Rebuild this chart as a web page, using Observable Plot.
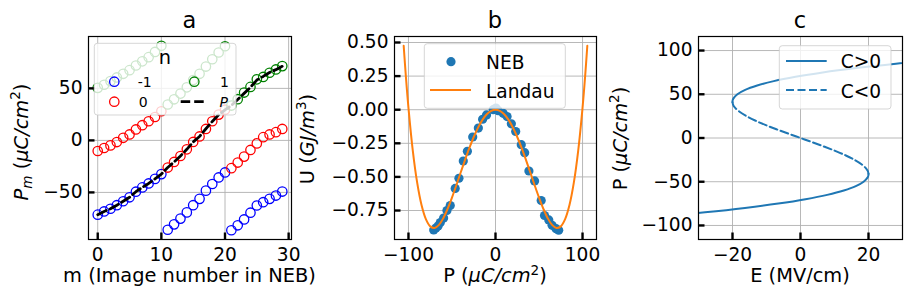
<!DOCTYPE html>
<html>
<head>
<meta charset="utf-8">
<script src="https://cdn.jsdelivr.net/npm/d3@7"></script>
<script src="https://cdn.jsdelivr.net/npm/@observablehq/plot@0.6"></script>
<style>
  html, body { margin: 0; padding: 0; background: #fff; }
  #fig { position: relative; width: 911px; height: 305px; overflow: hidden; background: #fff; }
  #fig > svg { position: absolute; top: 0; overflow: visible; background: transparent !important; }
</style>
</head>
<body>
<div id="fig"></div>
<script>
// ---------------- data ----------------
// panel a: image number m and the polarization branches P_m for n = -1, 0, 1
const imageM = [0,1,2,3,4,5,6,7,8,9,10,11,12,13,14,15,16,17,18,19,20,21,22,23,24,25,26,27,28,29];
const pmBlue  = [-71.4,-68.3,-65.7,-62.3,-58.5,-54.7,-49.3,-45.2,-41.4,-37.0,-32.4,
                 -85.9,-80.7,-75.2,-69.2,-62.3,-56.2,-48.3,-41.9,-35.6,-30.8,
                 -86.4,-81.6,-76.0,-69.5,-62.6,-59.4,-56.2,-53.0,-49.2];
const pmRed   = [-10.2,-7.3,-4.8,-1.6,2.5,5.7,10.5,14.6,18.4,22.5,28.0,
                 -26.1,-20.7,-15.0,-8.6,-1.5,3.8,11.0,18.4,24.8,29.5,
                 -26.7,-21.3,-15.6,-9.2,-2.9,3.1,5.7,7.9,11.0];
const pmGreen = [50.5,53.5,57.0,60.5,64.0,67.5,72.0,76.0,80.0,85.0,91.0,
                 34.5,39.5,45.0,51.0,58.0,64.0,71.0,78.0,84.5,90.5,
                 33.5,39.6,46.0,51.4,58.7,61.0,65.0,68.2,71.4];
const pPath   = [-71.4,-68.3,-65.7,-62.3,-58.5,-54.7,-49.3,-45.2,-41.4,-37.0,-32.4,
                 -26.1,-20.7,-15.0,-8.6,-1.5,3.8,11.2,18.2,24.6,29.3,
                 33.5,39.3,45.2,51.1,58.0,61.5,65.3,68.0,71.2];
const legendA = ["-1", "0", "1", "P"];

// panel b: NEB energies and Landau fit
const nebP = [-71.0,-68.5,-66.0,-63.4,-59.6,-55.8,-52.0,-46.3,-42.0,-37.0,-32.3,-26.2,-19.7,-14.8,-10.3,-2.6,
              0.5,3.1,8.8,13.3,18.2,23.2,29.6,33.5,38.4,44.9,52.5,56.3,61.2,65.0,69.6,72.6];
const nebU = [-0.895,-0.880,-0.865,-0.840,-0.806,-0.750,-0.713,-0.586,-0.510,-0.382,-0.309,-0.203,-0.137,-0.071,-0.039,0.000,
              0.012,-0.007,-0.027,-0.051,-0.105,-0.162,-0.260,-0.320,-0.456,-0.530,-0.676,-0.787,-0.820,-0.860,-0.885,-0.897];
const landauP = [-105.5,-103,-100,-95,-90,-85,-80,-75,-70,-65,-60,-55,-50,-45,-40,-35,-30,-25,-20,-15,-10,-5,
                 0,5,10,15,20,25,30,35,40,45,50,55,60,65,70,75,80,85,90,95,100,103,105.5];
const landauU = [0.476,0.250,0.014,-0.306,-0.543,-0.709,-0.814,-0.868,-0.880,-0.857,-0.807,-0.737,-0.654,-0.562,-0.467,-0.373,-0.284,-0.203,-0.133,-0.076,-0.034,-0.009,
                 0.000,-0.009,-0.034,-0.076,-0.133,-0.203,-0.284,-0.373,-0.467,-0.562,-0.654,-0.737,-0.807,-0.857,-0.880,-0.868,-0.814,-0.709,-0.543,-0.306,0.014,0.250,0.476];
const legendB = ["NEB", "Landau"];

// panel c: P–E curve
const peP = [-105.5,-100,-95,-90,-85,-80,-75,-70,-65,-60,-55,-50,-45,-43,-41,-38,-35,-30,-25,-20,-15,-10,-5,
             0,5,10,15,20,25,30,35,38,41,43,45,50,55,60,65,70,75,80,85,90,95,100,105.5];
const peE = [-99.9,-76.5,-57.98,-41.9,-28.07,-16.34,-6.54,1.47,7.86,12.74,16.27,18.56,19.76,19.96,20.00,19.81,19.33,17.93,15.90,13.35,10.37,7.09,3.60,
             0,-3.60,-7.09,-10.37,-13.35,-15.90,-17.93,-19.33,-19.81,-20.00,-19.96,-19.76,-18.56,-16.27,-12.74,-7.86,-1.47,6.54,16.34,28.07,41.9,57.98,76.5,99.9];
const turnP = 41;
const legendC = ["C>0", "C<0"];

// tick values
const aXTicks = [0, 10, 20, 30], aYTicks = [-50, 0, 50];
const bXTicks = [-100, 0, 100], bYTicks = [-0.75, -0.5, -0.25, 0, 0.25, 0.5];
const cXTicks = [-20, 0, 20], cYTicks = [-100, -50, 0, 50, 100];

// ---------------- helpers ----------------
const FONT = "DejaVu Sans, sans-serif";
const BASE = 18.6;
const LABEL = 19.4;
const TITLE = 22.5;
const BLUE = "#1f77b4", ORANGE = "#ff7f0e";

function pad([lo, hi]) { const d = (hi - lo) * 0.05; return [lo - d, hi + d]; }

function panel({width, ml, mr, xDomain, yDomain, xTicks, yTicks, xFmt, yFmt, marks}) {
  const mt = 36, mb = 66, height = 305;
  const pw = width - ml - mr, ph = height - mt - mb;
  return Plot.plot({
    width, height, marginLeft: ml, marginRight: mr, marginTop: mt, marginBottom: mb,
    style: {fontFamily: FONT, fontSize: BASE + "px", background: "transparent", color: "black", overflow: "visible"},
    x: {domain: xDomain, ticks: xTicks, tickSize: 0, tickPadding: 8, tickFormat: xFmt, label: null},
    y: {domain: yDomain, ticks: yTicks, tickSize: 0, tickPadding: 6, tickFormat: yFmt, label: null},
    marks: [
      Plot.ruleX(xTicks, {x: d => d, stroke: "#b0b0b0", strokeWidth: 0.9}),
      Plot.ruleY(yTicks, {y: d => d, stroke: "#b0b0b0", strokeWidth: 0.9}),
      ...marks,
      Plot.frame({stroke: "black", strokeWidth: 1.2}),
      Plot.tickX(xTicks, {x: d => d, insetTop: ph - 6.5, stroke: "black", strokeWidth: 2.4}),
      Plot.tickY(yTicks, {y: d => d, insetRight: pw - 6.5, stroke: "black", strokeWidth: 2.4})
    ]
  });
}

function label(svg, x, y, parts, size, {anchor = "middle", rotate = false} = {}) {
  const t = d3.select(svg).append("text")
    .attr("font-family", FONT).attr("font-size", size).attr("fill", "black")
    .attr("text-anchor", anchor);
  if (rotate) t.attr("transform", `translate(${x},${y}) rotate(-90)`);
  else t.attr("x", x).attr("y", y);
  let shift = 0;
  for (const p of parts) {
    const s = t.append("tspan").text(p.t);
    let target = 0, fs = size;
    if (p.sup) { target = -0.38 * size; fs = 0.7 * size; }
    if (p.sub) { target = 0.22 * size; fs = 0.7 * size; }
    if (fs !== size) s.attr("font-size", fs);
    if (p.i) s.attr("font-style", "italic");
    if (target !== shift) { s.attr("dy", target - shift); shift = target; }
  }
  return t;
}

function legendBox(svg, x, y, w, h) {
  d3.select(svg).append("rect")
    .attr("x", x).attr("y", y).attr("width", w).attr("height", h).attr("rx", 3)
    .attr("fill", "white").attr("fill-opacity", 0.8)
    .attr("stroke", "#cccccc").attr("stroke-opacity", 0.8).attr("stroke-width", 1);
}

const fig = document.getElementById("fig");
function place(svg, left) { svg.style.left = left + "px"; fig.appendChild(svg); return svg; }

// ---------------- panel a ----------------
{
  const all = pmBlue.concat(pmRed, pmGreen, pPath);
  const dotOpts = {x: d => d, r: 4.7, fill: "none", strokeWidth: 1.3};
  const svg = panel({
    width: 300, ml: 88, mr: 9,
    xDomain: pad(d3.extent(imageM)), yDomain: pad(d3.extent(all)),
    xTicks: aXTicks, yTicks: aYTicks, xFmt: d3.format("d"), yFmt: d3.format("d"),
    marks: [
      Plot.dot(imageM, {...dotOpts, y: (d, i) => pmBlue[i], stroke: "blue"}),
      Plot.dot(imageM, {...dotOpts, y: (d, i) => pmRed[i], stroke: "red"}),
      Plot.dot(imageM, {...dotOpts, y: (d, i) => pmGreen[i], stroke: "green"}),
      Plot.line(imageM, {x: d => d, y: (d, i) => pPath[i], stroke: "black", strokeWidth: 2.8, strokeDasharray: "9.5,4"})
    ]
  });
  place(svg, 0);
  const s = d3.select(svg);
  legendBox(svg, 94.3, 43.3, 141.7, 71.7);
  label(svg, 165, 63.5, [{t: "n"}], LABEL);
  const LF = 14;
  s.append("circle").attr("cx", 114.3).attr("cy", 81.7).attr("r", 4.7).attr("fill", "none").attr("stroke", "blue").attr("stroke-width", 1.3);
  label(svg, 137.8, 86.7, [{t: legendA[0]}], LF, {anchor: "start"});
  s.append("circle").attr("cx", 114.3).attr("cy", 101.7).attr("r", 4.7).attr("fill", "none").attr("stroke", "red").attr("stroke-width", 1.3);
  label(svg, 138.8, 106.7, [{t: legendA[1]}], LF, {anchor: "start"});
  s.append("circle").attr("cx", 194.3).attr("cy", 81.7).attr("r", 4.7).attr("fill", "none").attr("stroke", "green").attr("stroke-width", 1.3);
  label(svg, 220, 86.7, [{t: legendA[2]}], LF, {anchor: "start"});
  s.append("line").attr("x1", 180.7).attr("x2", 205).attr("y1", 101.7).attr("y2", 101.7)
    .attr("stroke", "black").attr("stroke-width", 2.8).attr("stroke-dasharray", "9.5,4");
  label(svg, 219.5, 106.7, [{t: legendA[3], i: 1}], LF, {anchor: "start"});

  label(svg, 189.5, 28, [{t: "a"}], TITLE);
  label(svg, 189.5, 282, [{t: "m (Image number in NEB)"}], LABEL);
  label(svg, 27.5, 142, [{t: "P", i: 1}, {t: "m", i: 1, sub: 1}, {t: " ("}, {t: "μC/cm", i: 1}, {t: "2", sup: 1}, {t: ")"}], LABEL, {rotate: true});
}

// ---------------- panel b ----------------
{
  const svg = panel({
    width: 305, ml: 94, mr: 9,
    xDomain: pad(d3.extent(landauP.concat(nebP))), yDomain: pad(d3.extent(landauU.concat(nebU))),
    xTicks: bXTicks, yTicks: bYTicks, xFmt: d3.format("d"), yFmt: d3.format(".2f"),
    marks: [
      Plot.dot(nebP, {x: d => d, y: (d, i) => nebU[i], r: 4.6, fill: BLUE, stroke: "none"}),
      Plot.line(landauP, {x: d => d, y: (d, i) => landauU[i], stroke: ORANGE, strokeWidth: 2, curve: "catmull-rom"})
    ]
  });
  place(svg, 300);
  const s = d3.select(svg);
  const o = 300;
  legendBox(svg, 424.3 - o, 43.7, 141, 64.6);
  s.append("circle").attr("cx", 451 - o).attr("cy", 61.7).attr("r", 4.6).attr("fill", BLUE);
  label(svg, 486 - o, 69, [{t: legendB[0]}], BASE, {anchor: "start"});
  s.append("line").attr("x1", 430 - o).attr("x2", 471 - o).attr("y1", 90).attr("y2", 90)
    .attr("stroke", ORANGE).attr("stroke-width", 2);
  label(svg, 486 - o, 97.7, [{t: legendB[1]}], BASE, {anchor: "start"});

  label(svg, 195, 28, [{t: "b"}], TITLE);
  label(svg, 195, 282, [{t: "P ("}, {t: "μC/cm", i: 1}, {t: "2", sup: 1}, {t: ")"}], LABEL);
  label(svg, 13.5, 139, [{t: "U ("}, {t: "GJ/m", i: 1}, {t: "3", sup: 1}, {t: ")"}], LABEL, {rotate: true});
}

// ---------------- panel c ----------------
{
  const pts = peP.map((p, i) => ({P: p, E: peE[i]}));
  const lineOpts = {x: "E", y: "P", stroke: BLUE, strokeWidth: 2, curve: "catmull-rom", clip: true};
  const svg = panel({
    width: 306, ml: 93, mr: 9,
    xDomain: [-30, 30], yDomain: pad(d3.extent(peP)),
    xTicks: cXTicks, yTicks: cYTicks, xFmt: d3.format("d"), yFmt: d3.format("d"),
    marks: [
      Plot.line(pts.filter(d => d.P >= turnP), lineOpts),
      Plot.line(pts.filter(d => d.P <= -turnP), lineOpts),
      Plot.line(pts.filter(d => Math.abs(d.P) <= turnP), {...lineOpts, strokeDasharray: "8,3.5"})
    ]
  });
  place(svg, 605);
  const s = d3.select(svg);
  const o = 605;
  legendBox(svg, 779.3 - o, 45.7, 111.7, 63.3);
  s.append("line").attr("x1", 786 - o).attr("x2", 826.7 - o).attr("y1", 61).attr("y2", 61)
    .attr("stroke", BLUE).attr("stroke-width", 2);
  label(svg, 840.7 - o, 68.3, [{t: legendC[0]}], BASE, {anchor: "start"});
  s.append("line").attr("x1", 786 - o).attr("x2", 826.7 - o).attr("y1", 90).attr("y2", 90)
    .attr("stroke", BLUE).attr("stroke-width", 2).attr("stroke-dasharray", "8,3.5");
  label(svg, 840.7 - o, 97.7, [{t: legendC[1]}], BASE, {anchor: "start"});

  label(svg, 195, 28, [{t: "c"}], TITLE);
  label(svg, 195, 282, [{t: "E (MV/cm)"}], LABEL);
  label(svg, 21.7, 138.5, [{t: "P ("}, {t: "μC/cm", i: 1}, {t: "2", sup: 1}, {t: ")"}], LABEL, {rotate: true});
}
</script>
</body>
</html>
